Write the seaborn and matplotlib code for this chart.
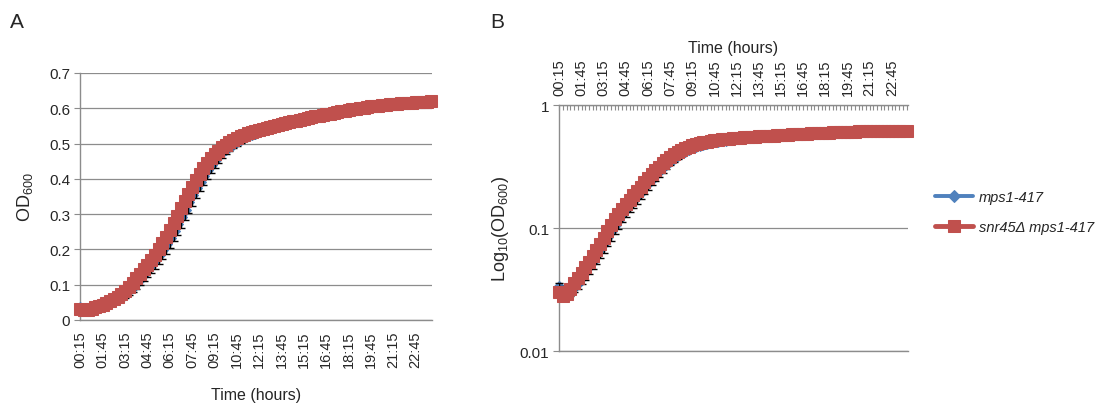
import numpy as np
import pandas as pd
import matplotlib
matplotlib.use("Agg")
import matplotlib.pyplot as plt
from matplotlib.ticker import FixedLocator, NullLocator, FixedFormatter
import seaborn as sns

# Sampling times: every 15 min from 00:15 to 23:45
sample_minutes = list(range(15, 24 * 60, 15))
time_labels = [f"{m // 60:02d}:{m % 60:02d}" for m in sample_minutes]

# Mean OD600, mps1-417
od_mps1 = [
    0.033, 0.031, 0.030, 0.031, 0.033, 0.036, 0.040, 0.044, 0.049, 0.054,
    0.060, 0.067, 0.075, 0.084, 0.094, 0.105, 0.117, 0.130, 0.143, 0.156,
    0.169, 0.183, 0.198, 0.215, 0.233, 0.252, 0.272, 0.292, 0.312, 0.333,
    0.353, 0.373, 0.392, 0.409, 0.425, 0.440, 0.453, 0.465, 0.476, 0.485,
    0.493, 0.500, 0.507, 0.513, 0.518, 0.523, 0.527, 0.531, 0.535, 0.539,
    0.542, 0.546, 0.549, 0.552, 0.555, 0.558, 0.561, 0.563, 0.566, 0.569,
    0.571, 0.573, 0.576, 0.578, 0.580, 0.582, 0.584, 0.586, 0.588, 0.590,
    0.592, 0.594, 0.596, 0.598, 0.599, 0.601, 0.602, 0.604, 0.605, 0.606,
    0.608, 0.609, 0.610, 0.611, 0.612, 0.613, 0.614, 0.615, 0.615, 0.616,
    0.617, 0.617, 0.618, 0.618, 0.619,
]

# Standard deviation, mps1-417
sd_mps1 = [
    0.003, 0.003, 0.003, 0.003, 0.003, 0.004, 0.005, 0.006, 0.007, 0.008,
    0.009, 0.010, 0.012, 0.013, 0.015, 0.016, 0.018, 0.019, 0.021, 0.022,
    0.024, 0.025, 0.026, 0.027, 0.028, 0.029, 0.030, 0.030, 0.030, 0.030,
    0.029, 0.028, 0.027, 0.026, 0.025, 0.024, 0.022, 0.020, 0.018, 0.016,
    0.015, 0.014, 0.013, 0.012, 0.011, 0.011, 0.010, 0.010, 0.010, 0.010,
    0.010, 0.010, 0.010, 0.010, 0.010, 0.010, 0.010, 0.010, 0.010, 0.010,
    0.010, 0.010, 0.010, 0.010, 0.010, 0.010, 0.010, 0.010, 0.010, 0.010,
    0.010, 0.010, 0.010, 0.010, 0.010, 0.010, 0.010, 0.010, 0.010, 0.010,
    0.010, 0.010, 0.010, 0.010, 0.010, 0.010, 0.010, 0.010, 0.010, 0.010,
    0.010, 0.010, 0.010, 0.010, 0.010,
]

# Mean OD600, snr45Δ mps1-417
od_snr45 = [
    0.030, 0.028, 0.029, 0.032, 0.036, 0.039, 0.043, 0.048, 0.053, 0.059,
    0.066, 0.074, 0.083, 0.094, 0.105, 0.118, 0.131, 0.144, 0.157, 0.170,
    0.184, 0.200, 0.217, 0.236, 0.256, 0.276, 0.295, 0.316, 0.337, 0.357,
    0.377, 0.396, 0.413, 0.430, 0.445, 0.458, 0.470, 0.480, 0.489, 0.497,
    0.504, 0.510, 0.516, 0.521, 0.525, 0.529, 0.533, 0.536, 0.539, 0.542,
    0.545, 0.548, 0.551, 0.553, 0.556, 0.558, 0.561, 0.563, 0.565, 0.568,
    0.570, 0.572, 0.574, 0.577, 0.579, 0.581, 0.583, 0.585, 0.587, 0.589,
    0.591, 0.593, 0.595, 0.597, 0.599, 0.600, 0.602, 0.603, 0.605, 0.606,
    0.607, 0.609, 0.610, 0.611, 0.612, 0.613, 0.614, 0.615, 0.616, 0.616,
    0.617, 0.618, 0.618, 0.619, 0.620,
]

series_names = ["mps1-417", "snr45\u0394 mps1-417"]
series_colors = ["#4F81BD", "#C0504D"]

idx = np.arange(len(time_labels))
df = pd.concat([
    pd.DataFrame({"t": idx, "od": od_mps1, "strain": series_names[0]}),
    pd.DataFrame({"t": idx, "od": od_snr45, "strain": series_names[1]}),
])

sns.set_theme(style="white")
plt.rcParams["font.family"] = ["Liberation Sans", "DejaVu Sans"]
plt.rcParams["mathtext.fontset"] = "custom"
plt.rcParams["mathtext.rm"] = "Liberation Sans"
plt.rcParams["mathtext.it"] = "Liberation Sans:italic"

GRID = "#8C8C8C"

fig = plt.figure(figsize=(10.98, 4.06), dpi=100)
axA = fig.add_axes([0.0729, 0.2094, 0.3206, 0.6084])
axB = fig.add_axes([0.5091, 0.1330, 0.3179, 0.6059])


def draw_series(ax):
    blue = df[df.strain == series_names[0]]
    red = df[df.strain == series_names[1]]
    sns.lineplot(data=blue, x="t", y="od", ax=ax, color=series_colors[0],
                 marker="D", markersize=5.8, markeredgecolor=series_colors[0],
                 linewidth=2.8, label=series_names[0], zorder=3)
    ax.errorbar(idx, od_mps1, yerr=sd_mps1, fmt="none", ecolor="black",
                elinewidth=1.0, capsize=2.8, capthick=1.0, zorder=4)
    sns.lineplot(data=red, x="t", y="od", ax=ax, color=series_colors[1],
                 marker="s", markersize=8, markeredgecolor=series_colors[1],
                 linewidth=3.5, label=series_names[1], zorder=5)
    for ln in ax.lines:
        ln.set_clip_on(False)
    ax.set_xlim(-0.1, len(idx) - 0.6)
    ax.xaxis.set_major_locator(FixedLocator(idx[::6]))
    ax.xaxis.set_major_formatter(FixedFormatter(time_labels[::6]))
    ax.xaxis.set_minor_locator(FixedLocator(idx))
    ax.tick_params(axis="x", which="both", length=3.5, width=0.8, color=GRID,
                   labelsize=10.5, labelrotation=90, pad=4)
    ax.tick_params(axis="y", which="major", length=4, width=0.8, color=GRID,
                   labelsize=11, pad=3, left=True)
    ax.grid(False)
    ax.yaxis.grid(True, color=GRID, linewidth=0.9)
    ax.set_axisbelow(True)
    for s in ["left", "bottom", "top", "right"]:
        ax.spines[s].set_color(GRID)
        ax.spines[s].set_linewidth(1.0)


# Panel A: linear OD600
draw_series(axA)
axA.set_ylim(0, 0.7)
axA.set_yticks(np.arange(0, 0.71, 0.1))
axA.set_yticklabels(["0", "0.1", "0.2", "0.3", "0.4", "0.5", "0.6", "0.7"])
axA.spines["top"].set_visible(False)
axA.spines["right"].set_visible(False)
axA.set_xlabel("Time (hours)", fontsize=11.5, labelpad=14)
axA.set_ylabel("OD$_{600}$", fontsize=13, labelpad=10)
axA.get_legend().remove()

# Panel B: log-scale OD600, time axis on top
draw_series(axB)
axB.set_yscale("log")
axB.set_ylim(0.01, 1)
axB.yaxis.set_major_locator(FixedLocator([0.01, 0.1, 1]))
axB.yaxis.set_major_formatter(FixedFormatter(["0.01", "0.1", "1"]))
axB.yaxis.set_minor_locator(NullLocator())
axB.xaxis.tick_top()
axB.xaxis.set_label_position("top")
axB.tick_params(axis="x", which="both", direction="in", length=3.5, pad=7)
axB.tick_params(axis="x", which="both", bottom=False, labelbottom=False)
axB.spines["right"].set_visible(False)
axB.set_xlabel("Time (hours)", fontsize=11.5, labelpad=5)
axB.set_ylabel("Log$_{10}$(OD$_{600}$)", fontsize=13, labelpad=6)
leg = axB.legend(loc="center left", bbox_to_anchor=(1.06, 0.565), frameon=False,
                 fontsize=10.5, handlelength=2.6, handletextpad=0.4,
                 labelspacing=1.05, borderaxespad=0)
for txt in leg.get_texts():
    txt.set_fontstyle("italic")

fig.text(0.0091, 0.9446, "A", fontsize=15, va="center", ha="left")
fig.text(0.4463, 0.9446, "B", fontsize=15, va="center", ha="left")

fig.savefig("out.png", dpi=100)
